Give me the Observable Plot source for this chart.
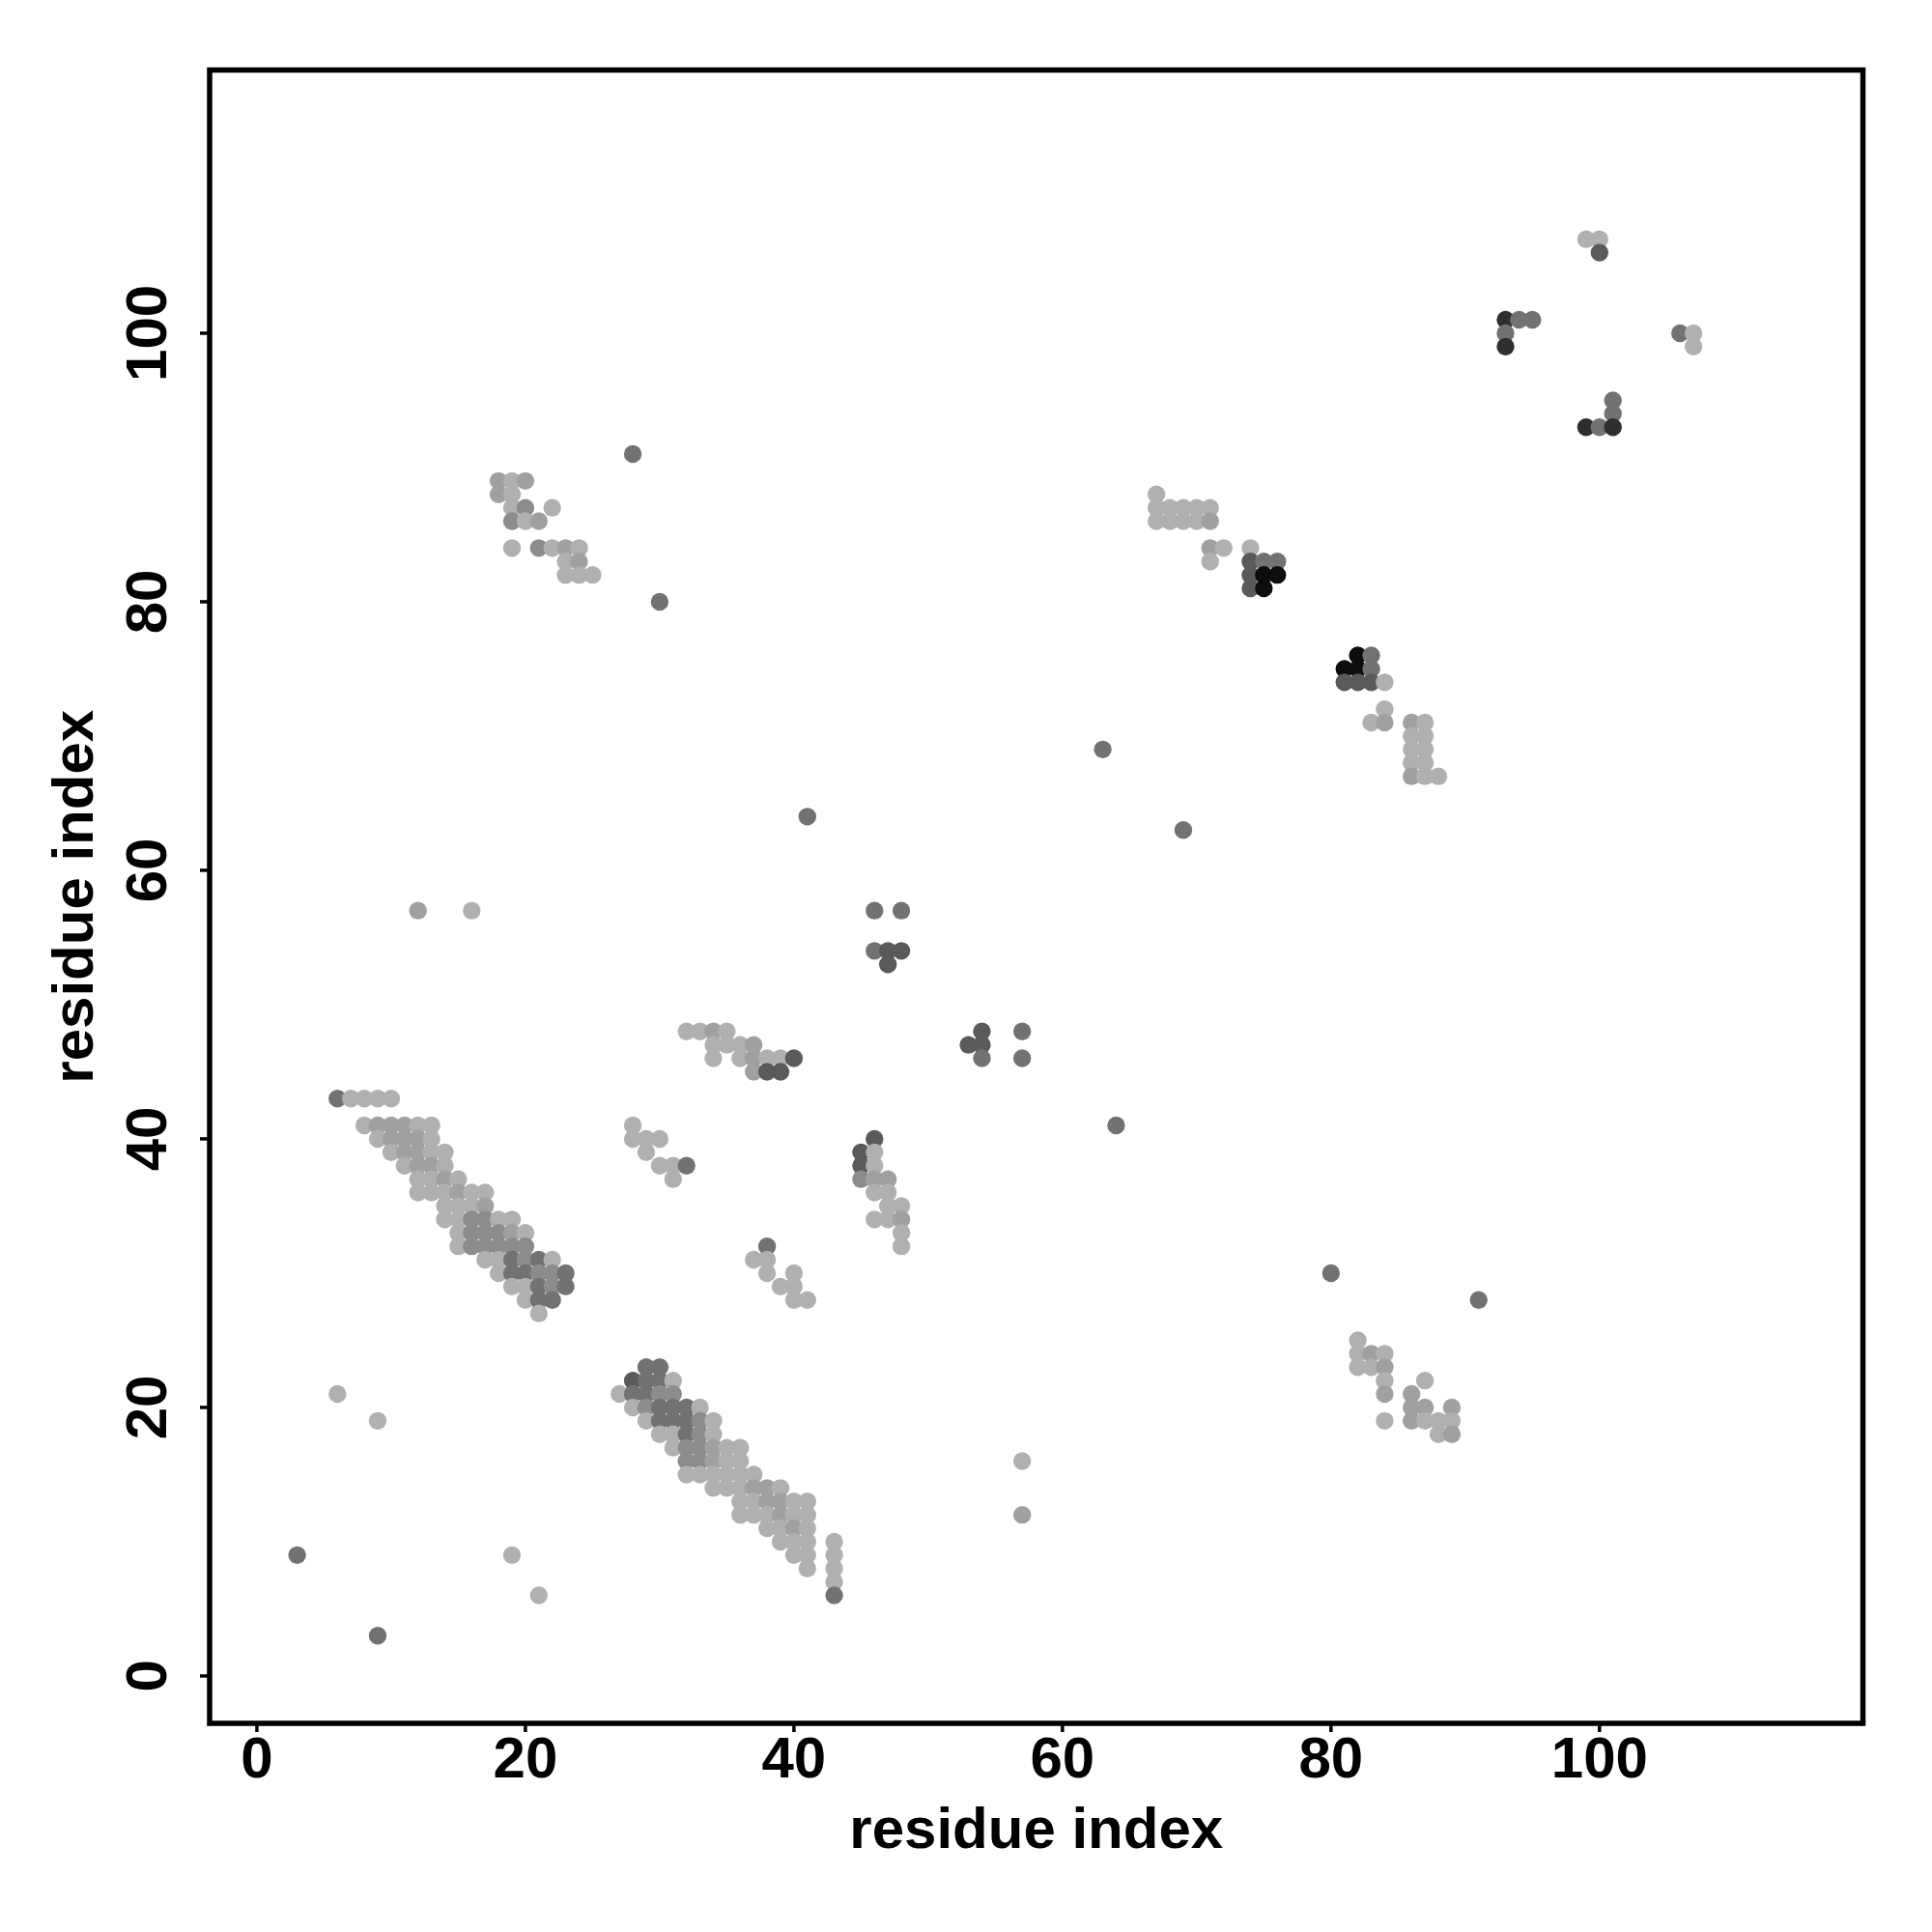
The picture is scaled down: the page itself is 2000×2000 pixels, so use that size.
<!DOCTYPE html>
<html><head><meta charset="utf-8">
<script src="https://cdn.jsdelivr.net/npm/d3@7"></script>
<script src="https://cdn.jsdelivr.net/npm/@observablehq/plot@0.6"></script>
<style>body{margin:0;background:#fff}</style>
</head><body><div id="chart"></div>
<script>
// [residue i, residue j, shade level]
const bandUpper = [
[6,43,4],[7,43,1],[8,43,1],[9,43,1],[10,43,1],
[8,41,1],[9,41,2],[10,41,2],[11,41,2],[12,41,1],[13,41,1],
[9,40,1],[10,40,2],[11,40,2],[12,40,2],[13,40,1],
[10,39,1],[11,39,2],[12,39,2],[13,39,1],[14,39,1],
[11,38,1],[12,38,2],[13,38,2],[14,38,1],
[12,37,1],[13,37,1],[14,37,2],[15,37,1],
[12,36,1],[13,36,1],[14,36,1],[15,36,2],[16,36,1],[17,36,1],
[14,35,1],[15,35,1],[16,35,1],[17,35,2],
[14,34,1],[15,34,1],[16,34,3],[17,34,3],[18,34,1],[19,34,1],
[15,33,1],[16,33,3],[17,33,3],[18,33,3],[19,33,2],[20,33,1],
[15,32,1],[16,32,3],[17,32,3],[18,32,3],[19,32,3],[20,32,3],
[17,31,1],[18,31,1],[19,31,4],[20,31,3],[21,31,4],[22,31,1],
[18,30,1],[19,30,4],[20,30,4],[21,30,3],[22,30,3],[23,30,4],
[19,29,1],[20,29,1],[21,29,4],[22,29,3],[23,29,4],
[20,28,1],[21,28,4],[22,28,4],
[21,27,1]
];
const bandLower = [
[29,23,4],[30,23,4],
[28,22,5],[29,22,4],[30,22,4],[31,22,1],
[27,21,1],[28,21,4],[29,21,4],[30,21,3],[31,21,3],
[28,20,1],[29,20,3],[30,20,4],[31,20,4],[32,20,4],[33,20,1],
[29,19,1],[30,19,4],[31,19,4],[32,19,4],[33,19,3],[34,19,1],
[30,18,1],[31,18,1],[32,18,4],[33,18,3],[34,18,1],
[31,17,1],[32,17,3],[33,17,3],[34,17,2],[35,17,1],[36,17,1],
[32,16,3],[33,16,3],[34,16,2],[35,16,1],[36,16,1],
[32,15,1],[33,15,1],[34,15,1],[35,15,1],[36,15,1],[37,15,1],
[34,14,1],[35,14,1],[36,14,1],[37,14,2],[38,14,2],[39,14,1],
[36,13,1],[37,13,1],[38,13,2],[39,13,2],[40,13,1],[41,13,1],
[36,12,1],[37,12,1],[38,12,1],[39,12,2],[40,12,1],[41,12,1],
[38,11,1],[39,11,1],[40,11,2],[41,11,1],
[39,10,1],[40,10,1],[41,10,1],
[40,9,1],[41,9,1],
[41,8,1],
[43,10,1],[43,9,1],[43,8,1],[43,7,1],[43,6,4]
];
const clusterTopLeft = [
[18,89,2],[19,89,1],[20,89,2],
[18,88,2],[19,88,1],
[19,87,1],[20,87,3],[22,87,1],
[19,86,3],[20,86,1],[21,86,2],
[19,84,1],[21,84,3],[22,84,1],[23,84,2],[24,84,1],
[23,83,1],[24,83,2],
[23,82,1],[24,82,1],[25,82,1]
];
const clusterUpperMid = [
[67,88,1],
[67,87,1],[68,87,1],[69,87,1],[70,87,1],[71,87,1],
[67,86,1],[68,86,1],[69,86,1],[70,86,1],[71,86,2],
[71,84,2],[72,84,1],[74,84,1],
[71,83,1],
[74,83,5],[75,83,4],[76,83,4],
[74,82,5],[75,82,7],[76,82,7],
[74,81,5],[75,81,7]
];
const clusterRightMid = [
[82,76,7],[83,76,4],
[81,75,7],[82,75,7],[83,75,4],
[81,74,5],[82,74,5],[83,74,5],[84,74,1],
[84,72,1],
[83,71,1],[84,71,2],
[86,71,2],[87,71,1],
[86,70,1],[87,70,1],
[86,69,1],[87,69,1],
[86,68,1],[87,68,1],
[86,67,2],[87,67,1],[88,67,1]
];
const clusterTopRight = [
[99,107,1],[100,107,1],[100,106,5],
[93,101,6],[94,101,4],[95,101,4],
[93,100,4],[93,99,6],
[106,100,4],[107,100,1],[107,99,1],
[101,95,4],[101,94,4],
[99,93,6],[100,93,4],[101,93,6]
];
const clusterCentre = [
[32,48,1],[33,48,1],[34,48,2],[35,48,1],
[34,47,1],[35,47,1],[36,47,1],[37,47,2],
[34,46,1],[36,46,1],[37,46,2],[38,46,1],[39,46,1],[40,46,5],
[37,45,2],[38,45,5],[39,45,5],
[28,41,1],
[28,40,1],[29,40,1],[30,40,1],
[29,39,1],
[30,38,1],[31,38,1],[32,38,4],
[31,37,1],
[46,40,5],
[45,39,5],[46,39,1],
[45,38,5],[46,38,1],
[45,37,3],[46,37,2],[47,37,2],
[46,36,1],[47,36,1],
[47,35,1],[48,35,1],
[46,34,1],[47,34,1],[48,34,2],
[48,33,1],[48,32,1],
[38,32,4],
[37,31,1],[38,31,1],
[38,30,1],[40,30,1],
[39,29,1],[40,29,1],
[40,28,1],[41,28,1],
[46,57,4],[48,57,4],
[46,54,4],[47,54,5],[48,54,5],
[47,53,5],
[54,48,5],[57,48,4],
[53,47,5],[54,47,5],
[54,46,4],[57,46,4]
];
const clusterLowerRight = [
[82,25,1],
[82,24,1],[83,24,2],[84,24,1],
[82,23,1],[83,23,1],[84,23,2],
[84,22,1],[84,21,2],[84,19,1],
[87,22,1],[86,21,2],
[86,20,2],[87,20,2],[89,20,2],
[86,19,2],[87,19,1],[88,19,1],[89,19,1],
[88,18,1],[89,18,2]
];
const singles = [
[3,9,4],[9,3,4],[6,21,1],[9,19,1],[19,9,1],[21,6,1],
[12,57,2],[16,57,1],
[28,91,4],[30,80,4],[41,64,4],[63,69,4],[69,63,4],[64,41,4],
[57,16,1],[57,12,2],
[80,30,4],[91,28,4]
];

const shadeLevels = [1,2,3,4,5,6,7];
const shadeColors = ["#b0b0b0","#a0a0a0","#8c8c8c","#727272","#5a5a5a","#2e2e2e","#0d0d0d"];
const xTicks = [0,20,40,60,80,100];
const yTicks = [0,20,40,60,80,100];
const xTitle = "residue index";
const yTitle = "residue index";

const contacts = [].concat(bandUpper, bandLower, clusterTopLeft, clusterUpperMid,
  clusterRightMid, clusterTopRight, clusterCentre, clusterLowerRight, singles)
  .map(([i, j, s]) => ({i, j, s}))
  .sort((a, b) => b.j - a.j || a.i - b.i);

const font = "'Liberation Sans', Arial, Helvetica, sans-serif";
const chart = Plot.plot({
  width: 2000, height: 2000,
  marginLeft: 216.5, marginRight: 72, marginTop: 72, marginBottom: 216.5,
  style: {fontFamily: font, background: "white"},
  x: {domain: [-3.52, 119.62], label: null},
  y: {domain: [-3.53, 119.6], label: null},
  color: {type: "ordinal", domain: shadeLevels, range: shadeColors},
  marks: [
    Plot.dot(contacts, {x: "i", y: "j", r: 9.2, fill: "s"}),
    Plot.frame({stroke: "black", strokeWidth: 5.5}),
    Plot.axisX({ticks: xTicks, tickSize: 9.5, tickPadding: 4, strokeWidth: 3.5, fontSize: 60, fontWeight: "bold", label: null, fill: "black"}),
    Plot.axisY({ticks: yTicks, tickSize: 9.5, tickPadding: 36, tickRotate: -90, strokeWidth: 3.5, fontSize: 60, fontWeight: "bold", label: null, fill: "black"}),
    Plot.text([xTitle], {text: d => d, frameAnchor: "bottom", textAnchor: "middle", dy: 128.5, lineAnchor: "bottom", fontSize: 60, fontWeight: "bold", fill: "black"}),
    Plot.text([yTitle], {text: d => d, frameAnchor: "left", textAnchor: "middle", dx: -121, rotate: -90, lineAnchor: "bottom", fontSize: 60, fontWeight: "bold", fill: "black"})
  ]
});
document.getElementById("chart").appendChild(chart);
</script>
</body></html>
